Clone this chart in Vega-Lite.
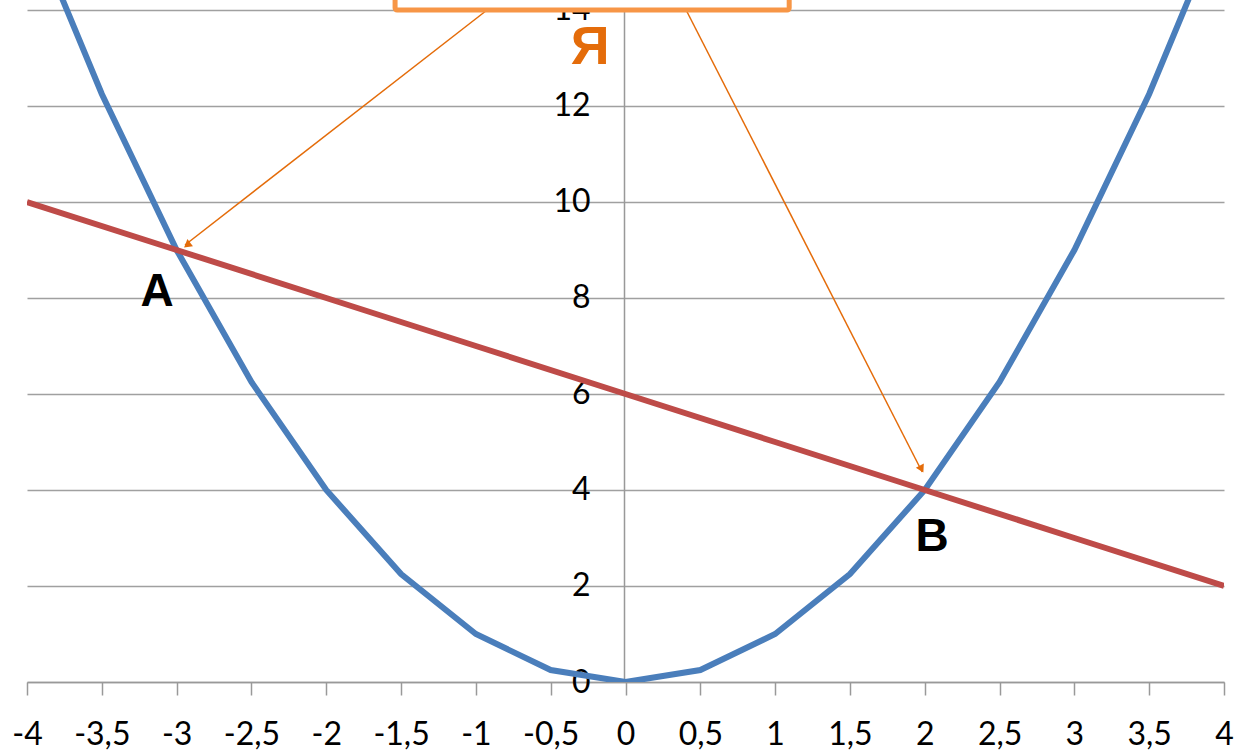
{
  "$schema": "https://vega.github.io/schema/vega-lite/v6.json",
  "width": 1197,
  "height": 682,
  "autosize": {"type": "none"},
  "padding": {"left": 27, "top": 0, "right": 11, "bottom": 69},
  "background": "white",
  "config": {"view": {"stroke": null}},
  "datasets": {
    "parabola": [
      {"x": -4, "y": 16}, {"x": -3.5, "y": 12.25}, {"x": -3, "y": 9}, {"x": -2.5, "y": 6.25},
      {"x": -2, "y": 4}, {"x": -1.5, "y": 2.25}, {"x": -1, "y": 1}, {"x": -0.5, "y": 0.25},
      {"x": 0, "y": 0}, {"x": 0.5, "y": 0.25}, {"x": 1, "y": 1}, {"x": 1.5, "y": 2.25},
      {"x": 2, "y": 4}, {"x": 2.5, "y": 6.25}, {"x": 3, "y": 9}, {"x": 3.5, "y": 12.25}, {"x": 4, "y": 16}
    ],
    "line": [
      {"x": -4, "y": 10}, {"x": -3, "y": 9}, {"x": -2, "y": 8}, {"x": -1, "y": 7},
      {"x": 0, "y": 6}, {"x": 1, "y": 5}, {"x": 2, "y": 4}, {"x": 3, "y": 3}, {"x": 4, "y": 2}
    ],
    "box": [{"x": -1.54, "x2": 1.094, "y": 14.0, "y2": 15.5}],
    "arrows": [
      {"x": -0.925, "y": 14.0, "x2": -2.944, "y2": 9.104},
      {"x": 0.405, "y": 14.0, "x2": 1.983, "y2": 4.375}
    ],
    "head1": [{"x": -2.923, "y": 9.12}],
    "head2": [{"x": 1.975, "y": 4.46}],
    "ya": [{"label": "Я", "x": -0.237, "y": 13.21}],
    "points": [
      {"label": "A", "x": -3.131, "y": 8.125},
      {"label": "B", "x": 2.05, "y": 3.02}
    ]
  },
  "layer": [
    {
      "data": {"name": "parabola"},
      "mark": {"type": "line", "color": "#4a7ebb", "strokeWidth": 6, "clip": true},
      "encoding": {
        "x": {
          "field": "x", "type": "quantitative",
          "scale": {"domain": [-4, 4], "nice": false, "zero": false},
          "axis": {
            "values": [-4, -3.5, -3, -2.5, -2, -1.5, -1, -0.5, 0, 0.5, 1, 1.5, 2, 2.5, 3, 3.5, 4],
            "labelExpr": "replace(toString(datum.value), '.', ',')",
            "title": null, "grid": false,
            "domainColor": "#999999", "domainWidth": 1.5,
            "tickColor": "#999999", "tickWidth": 1.5, "tickSize": 13,
            "labelFont": "Lato", "labelFontSize": 32, "labelColor": "#000000",
            "labelPadding": 24, "labelFlush": false, "labelOverlap": false
          }
        },
        "y": {
          "field": "y", "type": "quantitative",
          "scale": {"domain": [0, 14.208], "nice": false},
          "axis": {
            "values": [0, 2, 4, 6, 8, 10, 12, 14],
            "title": null, "grid": true, "gridColor": "#a0a0a0", "gridWidth": 1.5,
            "offset": -597, "ticks": false, "tickSize": 0,
            "domainColor": "#999999", "domainWidth": 1.5,
            "labelFont": "Lato", "labelFontSize": 32, "labelColor": "#000000",
            "labelPadding": 34, "labelFlush": false, "labelOverlap": false
          }
        }
      }
    },
    {
      "data": {"name": "line"},
      "mark": {"type": "line", "color": "#be4b48", "strokeWidth": 6, "clip": true},
      "encoding": {
        "x": {"field": "x", "type": "quantitative"},
        "y": {"field": "y", "type": "quantitative"}
      }
    },
    {
      "data": {"name": "arrows"},
      "mark": {"type": "rule", "color": "#e46c0a", "strokeWidth": 1.5},
      "encoding": {
        "x": {"field": "x", "type": "quantitative"},
        "y": {"field": "y", "type": "quantitative"},
        "x2": {"field": "x2"},
        "y2": {"field": "y2"}
      }
    },
    {
      "data": {"name": "head1"},
      "mark": {"type": "point", "shape": "triangle", "filled": true, "color": "#e46c0a", "size": 80, "opacity": 1, "angle": 232},
      "encoding": {
        "x": {"field": "x", "type": "quantitative"},
        "y": {"field": "y", "type": "quantitative"}
      }
    },
    {
      "data": {"name": "head2"},
      "mark": {"type": "point", "shape": "triangle", "filled": true, "color": "#e46c0a", "size": 80, "opacity": 1, "angle": 153},
      "encoding": {
        "x": {"field": "x", "type": "quantitative"},
        "y": {"field": "y", "type": "quantitative"}
      }
    },
    {
      "data": {"name": "box"},
      "mark": {"type": "rect", "fill": "white", "stroke": "#f79646", "strokeWidth": 5, "cornerRadius": 2, "clip": true},
      "encoding": {
        "x": {"field": "x", "type": "quantitative"},
        "x2": {"field": "x2"},
        "y": {"field": "y", "type": "quantitative"},
        "y2": {"field": "y2"}
      }
    },
    {
      "data": {"name": "ya"},
      "mark": {"type": "text", "font": "Liberation Sans", "fontWeight": "bold", "fontSize": 54, "color": "#e46c0a", "align": "center", "baseline": "middle"},
      "encoding": {
        "x": {"field": "x", "type": "quantitative"},
        "y": {"field": "y", "type": "quantitative"},
        "text": {"field": "label"}
      }
    },
    {
      "data": {"name": "points"},
      "mark": {"type": "text", "font": "Liberation Sans", "fontWeight": "bold", "fontSize": 46, "color": "#000000", "align": "center", "baseline": "middle"},
      "encoding": {
        "x": {"field": "x", "type": "quantitative"},
        "y": {"field": "y", "type": "quantitative"},
        "text": {"field": "label"}
      }
    }
  ]
}
